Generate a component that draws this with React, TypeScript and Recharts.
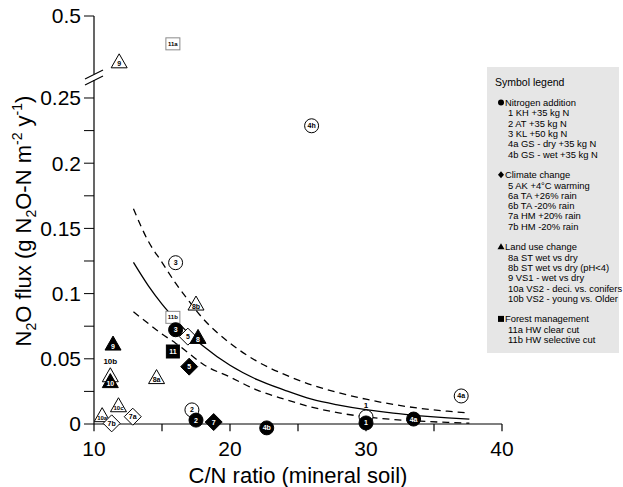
import React from "react";
import { ComposedChart, Scatter, Line, XAxis, YAxis, ReferenceLine } from "recharts";

const FONT = "'Liberation Sans', Arial, Helvetica, sans-serif";

// each point: C/N ratio (mineral soil), N2O flux (g N2O-N m-2 y-1), site label
const openCircles = [
  { cn: 26.0, flux: 0.2287, label: "4h" },
  { cn: 16.0, flux: 0.1237, label: "3" },
  { cn: 17.2, flux: 0.0108, label: "2" },
  { cn: 30.0, flux: 0.0054, label: "1" },
  { cn: 37.0, flux: 0.0215, label: "4a" },
];
const filledCircles = [
  { cn: 16.0, flux: 0.0723, label: "3" },
  { cn: 17.5, flux: 0.003, label: "2" },
  { cn: 22.7, flux: -0.003, label: "4b" },
  { cn: 30.0, flux: 0.0008, label: "1" },
  { cn: 33.5, flux: 0.0038, label: "4a" },
];
const openDiamonds = [
  { cn: 16.9, flux: 0.067, label: "5" },
  { cn: 12.85, flux: 0.0056, label: "7a" },
  { cn: 11.3, flux: 0.0005, label: "7b" },
];
const filledDiamonds = [
  { cn: 17.0, flux: 0.044, label: "5" },
  { cn: 18.8, flux: 0.0015, label: "7" },
];
const openTriangles = [
  { cn: 17.5, flux: 0.092, label: "8b" },
  { cn: 14.6, flux: 0.0356, label: "8a" },
  { cn: 11.2, flux: 0.037, label: "10b" },
  { cn: 11.8, flux: 0.014, label: "10c" },
  { cn: 10.6, flux: 0.0064, label: "10a" },
];
const filledTriangles = [
  { cn: 17.65, flux: 0.0664, label: "8" },
  { cn: 11.4, flux: 0.0613, label: "9" },
  { cn: 11.2, flux: 0.0325, label: "10" },
];
const openSquares = [{ cn: 15.8, flux: 0.0818, label: "11b" }];
const filledSquares = [{ cn: 15.8, flux: 0.0556, label: "11" }];

// points above the axis break
const openTrianglesHigh = [{ cn: 11.85, flux: 0.421, label: "9" }];
const openSquaresHigh = [{ cn: 15.8, flux: 0.452, label: "11a" }];

// fitted curve and its confidence band
const fitCn = [12.9, 14, 15, 16, 17, 18, 20, 22, 24, 26, 28, 30, 32, 34, 36, 37.6];
const fitMid = [0.124, 0.106, 0.092, 0.08, 0.069, 0.06, 0.045, 0.034, 0.026, 0.019, 0.0145, 0.011, 0.0083, 0.0063, 0.0047, 0.0037];
const fitHigh = [0.165, 0.14, 0.124, 0.108, 0.094, 0.081, 0.062, 0.048, 0.038, 0.03, 0.024, 0.019, 0.015, 0.012, 0.0098, 0.0085];
const fitLow = [0.086, 0.077, 0.069, 0.062, 0.054, 0.046, 0.036, 0.026, 0.019, 0.013, 0.0085, 0.0055, 0.0035, 0.0022, 0.0012, 0.0006];

const xTicks = [10, 15, 20, 25, 30, 35, 40];
const xLabels = [10, 20, 30, 40];
const yTicks = [0, 0.025, 0.05, 0.075, 0.1, 0.125, 0.15, 0.175, 0.2, 0.225, 0.25];
const yLabels = [0, 0.05, 0.1, 0.15, 0.2, 0.25];
const yTicksHigh = [0.5];

const legendTitle = "Symbol legend";
const legendGroups = [
  { symbol: "circle", title: "Nitrogen addition", items: ["1 KH +35 kg N", "2 AT +35 kg N", "3 KL +50 kg N", "4a GS - dry +35 kg N", "4b GS - wet +35 kg N"] },
  { symbol: "diamond", title: "Climate change", items: ["5 AK +4°C warming", "6a TA +26% rain", "6b TA -20% rain", "7a HM +20% rain", "7b HM -20% rain"] },
  { symbol: "triangle", title: "Land use change", items: ["8a ST wet vs dry", "8b ST wet vs dry (pH<4)", "9 VS1 - wet vs dry", "10a VS2 - deci. vs. conifers", "10b VS2 - young vs. Older"] },
  { symbol: "square", title: "Forest management", items: ["11a HW clear cut", "11b HW selective cut"] },
];

const fitRows = fitCn.map((cn, i) => ({ cn, mid: fitMid[i], hi: fitHigh[i], lo: fitLow[i] }));

const LABEL_ABOVE = new Set(["1", "10b"]);

function makeShape(kind: string, filled: boolean) {
  return (p: any) => {
    const { cx, cy, payload } = p;
    if (cx == null || cy == null) return <g />;
    const fill = filled ? "#000" : "#fff";
    const stroke = kind === "square" && !filled ? "#8a8a8a" : "#000";
    let body;
    let ty = cy;
    if (kind === "circle") {
      body = <circle cx={cx} cy={cy} r={7} fill={fill} stroke={stroke} />;
    } else if (kind === "diamond") {
      body = (
        <polygon
          points={`${cx},${cy - 8.5} ${cx + 8.5},${cy} ${cx},${cy + 8.5} ${cx - 8.5},${cy}`}
          fill={fill}
          stroke={stroke}
        />
      );
    } else if (kind === "triangle") {
      body = (
        <polygon
          points={`${cx},${cy - 8} ${cx + 8},${cy + 6} ${cx - 8},${cy + 6}`}
          fill={fill}
          stroke={stroke}
        />
      );
      ty = cy + 2;
    } else {
      body = filled ? (
        <rect x={cx - 6.5} y={cy - 6.5} width={13} height={13} fill={fill} stroke={stroke} />
      ) : (
        <rect x={cx - 7} y={cy - 6} width={14} height={12} fill={fill} stroke={stroke} />
      );
    }
    const above = !filled && LABEL_ABOVE.has(payload.label);
    const lab = payload.label as string;
    return (
      <g>
        {body}
        <text
          x={cx}
          y={above ? cy - (kind === "triangle" ? 14 : 11) : ty}
          textAnchor="middle"
          dominantBaseline="central"
          fontSize={above ? 8 : lab.length > 2 ? 6 : 7}
          fontWeight="bold"
          fill={filled ? "#fff" : "#000"}
          fontFamily={FONT}
        >
          {lab}
        </text>
      </g>
    );
  };
}

function LegendSymbol({ kind, x, y }: { kind: string; x: number; y: number }) {
  if (kind === "circle") return <circle cx={x} cy={y} r={3} fill="#000" />;
  if (kind === "diamond")
    return <polygon points={`${x},${y - 3.5} ${x + 3},${y} ${x},${y + 3.5} ${x - 3},${y}`} fill="#000" />;
  if (kind === "triangle")
    return <polygon points={`${x},${y - 3.5} ${x + 3.5},${y + 2.5} ${x - 3.5},${y + 2.5}`} fill="#000" />;
  return <rect x={x - 3} y={y - 3} width={6} height={6} fill="#000" />;
}

function Overlay() {
  const L = 10.3;
  let y = 82 + 2 * L;
  const rows: React.ReactNode[] = [];
  legendGroups.forEach((g, gi) => {
    rows.push(<LegendSymbol key={`s${gi}`} kind={g.symbol} x={501} y={y} />);
    rows.push(
      <text key={`t${gi}`} x={505} y={y} dominantBaseline="central" fontSize={9.4}>
        {g.title}
      </text>
    );
    y += L;
    g.items.forEach((it, ii) => {
      rows.push(
        <text key={`i${gi}-${ii}`} x={508} y={y} dominantBaseline="central" fontSize={9.4}>
          {it}
        </text>
      );
      y += L;
    });
    y += L;
  });
  return (
    <svg
      width={623}
      height={487}
      style={{ position: "absolute", left: 0, top: 0, pointerEvents: "none" }}
      fontFamily={FONT}
    >
      {/* axis break */}
      <line x1={85} y1={79} x2={103} y2={70} stroke="#000" strokeWidth={1.2} />
      <line x1={85} y1={85} x2={103} y2={76} stroke="#000" strokeWidth={1.2} />

      {/* y title */}
      <text transform="translate(31,221) rotate(-90)" textAnchor="middle" fontSize={22} fill="#000">
        N<tspan fontSize={14} dy={5}>2</tspan>
        <tspan dy={-5}>O flux (g N</tspan>
        <tspan fontSize={14} dy={5}>2</tspan>
        <tspan dy={-5}>O-N m</tspan>
        <tspan fontSize={14} dy={-9}>-2</tspan>
        <tspan dy={9}> y</tspan>
        <tspan fontSize={14} dy={-9}>-1</tspan>
        <tspan dy={9}>)</tspan>
      </text>

      {/* x title */}
      <text x={298} y={483} textAnchor="middle" fontSize={22} fill="#000">
        C/N ratio (mineral soil)
      </text>

      {/* symbol legend */}
      <rect x={487} y={67} width={132} height={286} fill="#e6e6e6" />
      <text x={495} y={82} dominantBaseline="central" fontSize={10.5}>
        {legendTitle}
      </text>
      {rows}
    </svg>
  );
}

const tickStyle = { fontSize: 21, fill: "#000", fontFamily: FONT };

export default function App() {
  return (
    <div style={{ position: "absolute", left: 0, top: 0, width: 623, height: 487, background: "#fff", fontFamily: FONT }}>
      <div style={{ position: "absolute", left: 0, top: 0 }}>
        <ComposedChart width={623} height={487} margin={{ top: 80, right: 121, bottom: 21.26, left: 34 }}>
          <XAxis
            type="number"
            dataKey="cn"
            domain={[10, 40]}
            ticks={xLabels}
            axisLine={false}
            tickLine={false}
            tickSize={0}
            tickMargin={5}
            height={30}
            tick={tickStyle}
            allowDataOverflow
          />
          <YAxis
            type="number"
            domain={[-0.009, 0.2638]}
            ticks={yTicks}
            interval={0}
            axisLine={false}
            tickLine={{ stroke: "#000" }}
            tickSize={10}
            tickMargin={3}
            width={60}
            tick={tickStyle}
            tickFormatter={(v: number) => (yLabels.includes(v) ? String(v) : "")}
            allowDataOverflow
          />
          <ReferenceLine y={0} stroke="#000" strokeWidth={1.2} ifOverflow="visible" />
          <ReferenceLine
            segment={[{ x: 10, y: 0 }, { x: 10, y: 0.2638 }]}
            stroke="#000"
            strokeWidth={1.2}
            ifOverflow="visible"
          />
          {xTicks.map((t) => (
            <ReferenceLine
              key={t}
              segment={[{ x: t, y: 0 }, { x: t, y: -0.0055 }]}
              stroke="#000"
              strokeWidth={1.2}
              ifOverflow="visible"
            />
          ))}
          <Line data={fitRows} dataKey="hi" type="monotone" stroke="#000" strokeWidth={1.3} strokeDasharray="7 5" dot={false} isAnimationActive={false} />
          <Line data={fitRows} dataKey="lo" type="monotone" stroke="#000" strokeWidth={1.3} strokeDasharray="7 5" dot={false} isAnimationActive={false} />
          <Line data={fitRows} dataKey="mid" type="monotone" stroke="#000" strokeWidth={1.3} dot={false} isAnimationActive={false} />
          <Scatter data={openSquares} dataKey="flux" shape={makeShape("square", false)} isAnimationActive={false} />
          <Scatter data={openCircles} dataKey="flux" shape={makeShape("circle", false)} isAnimationActive={false} />
          <Scatter data={openTriangles} dataKey="flux" shape={makeShape("triangle", false)} isAnimationActive={false} />
          <Scatter data={openDiamonds} dataKey="flux" shape={makeShape("diamond", false)} isAnimationActive={false} />
          <Scatter data={filledCircles} dataKey="flux" shape={makeShape("circle", true)} isAnimationActive={false} />
          <Scatter data={filledSquares} dataKey="flux" shape={makeShape("square", true)} isAnimationActive={false} />
          <Scatter data={filledTriangles} dataKey="flux" shape={makeShape("triangle", true)} isAnimationActive={false} />
          <Scatter data={filledDiamonds} dataKey="flux" shape={makeShape("diamond", true)} isAnimationActive={false} />
        </ComposedChart>
      </div>
      <div style={{ position: "absolute", left: 0, top: 0 }}>
        <ComposedChart width={623} height={80} margin={{ top: 16, right: 121, bottom: 6, left: 34 }}>
          <XAxis type="number" dataKey="cn" domain={[10, 40]} hide />
          <YAxis
            type="number"
            domain={[0.4, 0.5]}
            ticks={yTicksHigh}
            axisLine={{ stroke: "#000", strokeWidth: 1.2 }}
            tickLine={{ stroke: "#000" }}
            tickSize={10}
            tickMargin={3}
            width={60}
            tick={tickStyle}
          />
          <Scatter data={openTrianglesHigh} dataKey="flux" shape={makeShape("triangle", false)} isAnimationActive={false} />
          <Scatter data={openSquaresHigh} dataKey="flux" shape={makeShape("square", false)} isAnimationActive={false} />
        </ComposedChart>
      </div>
      <Overlay />
    </div>
  );
}
